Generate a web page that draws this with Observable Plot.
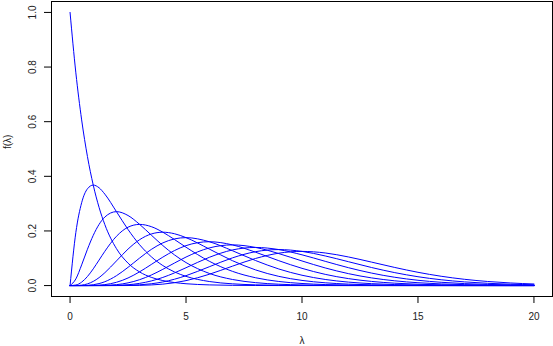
<!DOCTYPE html>
<html>
<head>
<meta charset="utf-8">
<script src="https://cdn.jsdelivr.net/npm/d3@7"></script>
<script src="https://cdn.jsdelivr.net/npm/@observablehq/plot@0.6"></script>
<style>
  html, body { margin: 0; padding: 0; background: #fff; }
  #chart { width: 553px; height: 346px; }
</style>
</head>
<body>
<div id="chart"></div>
<script>
// λ grid at which the curves were read
const lambda = [0, 0.25, 0.5, 0.75, 1, 1.25, 1.5, 2, 2.5, 3, 3.5, 4, 4.5, 5,
  6, 7, 8, 9, 10, 11, 12, 13, 14, 15, 16, 17, 18, 19, 20];

// f(λ) for each curve (k = 0 … 10)
const k0 = [1, 0.7788, 0.6065, 0.4724, 0.3679, 0.2865, 0.2231, 0.1353, 0.0821, 0.0498, 0.0302, 0.0183, 0.0111, 0.0067,
  0.0025, 0.0009, 0.0003, 0.0001, 0, 0, 0, 0, 0, 0, 0, 0, 0, 0, 0];
const k1 = [0, 0.1947, 0.3033, 0.3543, 0.3679, 0.3581, 0.3347, 0.2707, 0.2052, 0.1494, 0.1057, 0.0733, 0.0500, 0.0337,
  0.0149, 0.0064, 0.0027, 0.0011, 0.0005, 0.0002, 0.0001, 0, 0, 0, 0, 0, 0, 0, 0];
const k2 = [0, 0.0243, 0.0758, 0.1329, 0.1839, 0.2238, 0.2510, 0.2707, 0.2565, 0.2240, 0.1850, 0.1465, 0.1125, 0.0842,
  0.0446, 0.0223, 0.0107, 0.0050, 0.0023, 0.0010, 0.0004, 0.0002, 0.0001, 0, 0, 0, 0, 0, 0];
const k3 = [0, 0.0020, 0.0126, 0.0332, 0.0613, 0.0933, 0.1255, 0.1804, 0.2138, 0.2240, 0.2158, 0.1954, 0.1687, 0.1404,
  0.0892, 0.0521, 0.0286, 0.0150, 0.0076, 0.0037, 0.0018, 0.0008, 0.0004, 0.0002, 0.0001, 0, 0, 0, 0];
const k4 = [0, 0.0001, 0.0016, 0.0062, 0.0153, 0.0291, 0.0471, 0.0902, 0.1336, 0.1680, 0.1888, 0.1954, 0.1898, 0.1755,
  0.1339, 0.0912, 0.0573, 0.0337, 0.0189, 0.0102, 0.0053, 0.0027, 0.0013, 0.0006, 0.0003, 0.0001, 0.0001, 0, 0];
const k5 = [0, 0, 0.0002, 0.0009, 0.0031, 0.0073, 0.0141, 0.0361, 0.0668, 0.1008, 0.1322, 0.1563, 0.1708, 0.1755,
  0.1606, 0.1277, 0.0916, 0.0607, 0.0378, 0.0224, 0.0127, 0.0070, 0.0037, 0.0019, 0.0010, 0.0005, 0.0002, 0.0001, 0.0001];
const k6 = [0, 0, 0, 0.0001, 0.0005, 0.0015, 0.0035, 0.0120, 0.0278, 0.0504, 0.0771, 0.1042, 0.1281, 0.1462,
  0.1606, 0.1490, 0.1221, 0.0911, 0.0631, 0.0411, 0.0255, 0.0152, 0.0087, 0.0048, 0.0026, 0.0014, 0.0007, 0.0004, 0.0002];
const k7 = [0, 0, 0, 0, 0.0001, 0.0003, 0.0008, 0.0034, 0.0099, 0.0216, 0.0385, 0.0595, 0.0824, 0.1044,
  0.1377, 0.1490, 0.1396, 0.1171, 0.0901, 0.0646, 0.0437, 0.0281, 0.0174, 0.0104, 0.0060, 0.0034, 0.0019, 0.0010, 0.0005];
const k8 = [0, 0, 0, 0, 0, 0, 0.0001, 0.0009, 0.0031, 0.0081, 0.0169, 0.0298, 0.0463, 0.0653,
  0.1033, 0.1304, 0.1396, 0.1318, 0.1126, 0.0888, 0.0655, 0.0457, 0.0304, 0.0194, 0.0120, 0.0072, 0.0042, 0.0024, 0.0013];
const k9 = [0, 0, 0, 0, 0, 0, 0, 0.0002, 0.0009, 0.0027, 0.0066, 0.0132, 0.0232, 0.0363,
  0.0688, 0.1014, 0.1241, 0.1318, 0.1251, 0.1085, 0.0874, 0.0661, 0.0474, 0.0324, 0.0213, 0.0135, 0.0083, 0.0050, 0.0029];
const k10 = [0, 0, 0, 0, 0, 0, 0, 0, 0.0002, 0.0008, 0.0023, 0.0053, 0.0104, 0.0181,
  0.0413, 0.0710, 0.0993, 0.1186, 0.1251, 0.1194, 0.1048, 0.0859, 0.0663, 0.0486, 0.0341, 0.0230, 0.0150, 0.0095, 0.0058];

const series = [k0, k1, k2, k3, k4, k5, k6, k7, k8, k9, k10];

const xTicks = [0, 5, 10, 15, 20];
const yTicks = [0, 0.2, 0.4, 0.6, 0.8, 1.0];

const rows = [];
series.forEach((vals, k) => {
  vals.forEach((v, i) => rows.push({k, lambda: lambda[i], f: v}));
});

const fmtY = d3.format(".1f");

const chart = Plot.plot({
  width: 553,
  height: 346,
  marginLeft: 51,
  marginRight: 1,
  marginTop: 1,
  marginBottom: 50,
  style: {fontFamily: "'Liberation Sans', Arial, Helvetica, sans-serif", fontSize: "10px", color: "#000", background: "#fff", overflow: "visible"},
  x: {domain: [-0.8, 20.8]},
  y: {domain: [-0.04, 1.04]},
  marks: [
    Plot.line(rows, {x: "lambda", y: "f", z: "k", stroke: "blue", strokeWidth: 1, curve: "monotone-x"}),
    Plot.frame({stroke: "black", strokeWidth: 1}),
    Plot.axisX({ticks: xTicks, tickSize: 7, tickFormat: () => "", label: null, stroke: "black"}),
    Plot.axisY({ticks: yTicks, tickSize: 7, tickFormat: () => "", label: null, stroke: "black"}),
    Plot.text(xTicks, {x: d => d, y: () => -0.04, dy: 20, text: d => String(d), lineAnchor: "middle", textAnchor: "middle", fill: "#222"}),
    Plot.text(yTicks, {x: () => -0.8, y: d => d, dx: -19, rotate: -90, text: d => fmtY(d), lineAnchor: "middle", textAnchor: "middle", fill: "#222"}),
    Plot.text(["λ"], {frameAnchor: "bottom", dy: 44, text: d => d, lineAnchor: "middle", fill: "#222"}),
    Plot.text(["f(λ)"], {frameAnchor: "left", dx: -44, rotate: -90, text: d => d, lineAnchor: "middle", fill: "#222"})
  ]
});

document.getElementById("chart").appendChild(chart);
</script>
</body>
</html>
